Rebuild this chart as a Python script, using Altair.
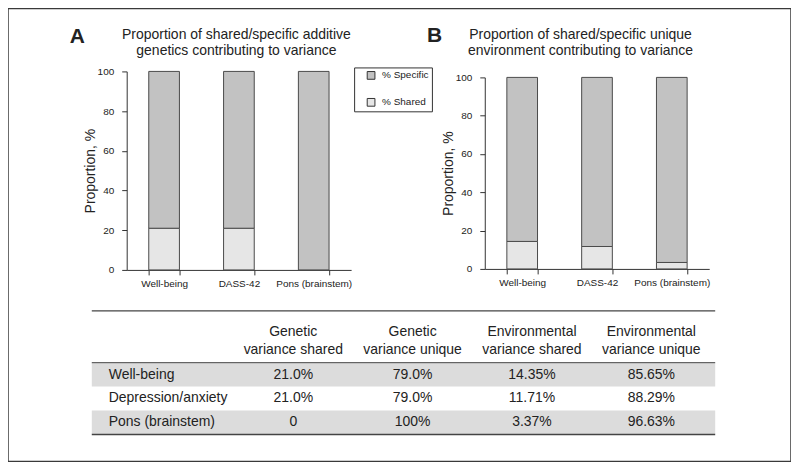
import altair as alt
import pandas as pd

# ---------------- data ----------------
categories = ["Well-being", "DASS-42", "Pons (brainstem)"]
genetic_shared = [21.0, 21.0, 0.0]
environment_shared = [14.35, 11.71, 3.37]
components = ["% Specific", "% Shared"]

table_rows = ["Well-being", "Depression/anxiety", "Pons (brainstem)"]
table_columns = ["Genetic\nvariance shared", "Genetic\nvariance unique",
                 "Environmental\nvariance shared", "Environmental\nvariance unique"]
col_genetic_shared = ["21.0%", "21.0%", "0"]
col_genetic_unique = ["79.0%", "79.0%", "100%"]
col_env_shared = ["14.35%", "11.71%", "3.37%"]
col_env_unique = ["85.65%", "88.29%", "96.63%"]
row_shaded = [True, False, True]

title_a = "Proportion of shared/specific additive\ngenetics contributing to variance"
title_b = "Proportion of shared/specific unique\nenvironment contributing to variance"
y_title = "Proportion, %"

FONT = "Liberation Sans"
TXT = "#222222"
LINE = "#444444"
W, H = 785, 454


def bars_df(shared):
    rows = []
    for c, s in zip(categories, shared):
        rows.append({"cat": c, "comp": "% Shared", "val": s, "ord": 0})
        rows.append({"cat": c, "comp": "% Specific", "val": round(100 - s, 2), "ord": 1})
    return pd.DataFrame(rows)


color = alt.Color(
    "comp:N",
    scale=alt.Scale(domain=components, range=["#c2c2c2", "#e6e6e6"]),
    legend=alt.Legend(
        title=None, orient="none", legendX=347, legendY=59, direction="vertical",
        symbolType="square", symbolSize=60, symbolStrokeColor="#333333",
        symbolStrokeWidth=1, labelFont=FONT, labelFontSize=10, labelColor=TXT,
        padding=3, rowPadding=15, symbolOffset=9, strokeColor="#333333",
        fillColor="white", labelOffset=6,
    ),
)


def bar_layer(shared, xrange, yrange, xoff, yoff):
    x = alt.X(
        "cat:N", sort=categories, title=None,
        scale=alt.Scale(domain=categories, range=xrange, paddingInner=0.59, paddingOuter=0.295),
        axis=alt.Axis(orient="bottom", offset=xoff, tickBand="extent", labelAngle=0,
                      labelFontSize=10, labelPadding=4, tickSize=5, grid=False),
    )
    y = alt.Y(
        "val:Q", stack="zero", title=y_title,
        scale=alt.Scale(domain=[0, 100], range=yrange, nice=False),
        axis=alt.Axis(orient="left", offset=yoff, values=[0, 20, 40, 60, 80, 100],
                      tickSize=5, labelPadding=8, labelFontSize=10, titleFontSize=14,
                      titleFontWeight="normal", titlePadding=0, grid=False),
    )
    return alt.Chart(bars_df(shared)).mark_bar(stroke="#4a4a4a", strokeWidth=1).encode(
        x=x, y=y, color=color, order=alt.Order("ord:Q")
    )


bars_a = bar_layer(genetic_shared, [119, 344], [262, 63], -(H - 262), -119)
bars_b = bar_layer(environment_shared, [478, 703], [261, 69], -(H - 261), -478)

one = pd.DataFrame({"k": [0]})


def label(text, x, y, size, weight="normal", align="center", lh=16):
    return alt.Chart(one).mark_text(
        text=text, font=FONT, fontSize=size, fontWeight=weight, align=align,
        baseline="alphabetic", color=TXT, lineBreak="\n", lineHeight=lh,
    ).encode(x=alt.value(x), y=alt.value(y))


lab_a = label("A", 62, 35, 21, "bold", "left")
lab_b = label("B", 420, 34, 21, "bold", "left")
tit_a = label(title_a, 229, 31, 14)
tit_b = label(title_b, 574, 31, 14)

# ---------------- table ----------------
cells = []
for i, r in enumerate(table_rows):
    for c, colvals in zip(table_columns, [col_genetic_shared, col_genetic_unique,
                                          col_env_shared, col_env_unique]):
        cells.append({"row": r, "col": c, "txt": colvals[i]})
cells_df = pd.DataFrame(cells)
rows_df = pd.DataFrame({"row": table_rows, "shaded": row_shaded})
cols_df = pd.DataFrame({"col": table_columns})

col_x = alt.X("col:N", sort=table_columns, axis=None,
              scale=alt.Scale(type="point", domain=table_columns, range=[286, 645], padding=0))
row_y_point = alt.Y("row:N", sort=table_rows, axis=None,
                    scale=alt.Scale(type="point", domain=table_rows, range=[367, 414], padding=0))

shade = alt.Chart(rows_df).transform_filter("datum.shaded").mark_rect(
    color="#dcdcdc", strokeWidth=0
).encode(
    y=alt.Y("row:N", sort=table_rows, axis=None,
            scale=alt.Scale(type="band", domain=table_rows, range=[355, 427],
                            paddingInner=0, paddingOuter=0)),
    x=alt.value(84), x2=alt.value(709),
)

cell_text = alt.Chart(cells_df).mark_text(
    font=FONT, fontSize=14, color=TXT, baseline="middle"
).encode(x=col_x, y=row_y_point, text="txt:N")

row_text = alt.Chart(rows_df).mark_text(
    font=FONT, fontSize=14, color=TXT, baseline="middle", align="left"
).encode(x=alt.value(101), y=row_y_point, text="row:N")

head_text = alt.Chart(cols_df).mark_text(
    font=FONT, fontSize=14, color=TXT, baseline="alphabetic", lineBreak="\n", lineHeight=18
).encode(x=col_x, y=alt.value(328), text="col:N")


def hline(y, w=1.3):
    return alt.Chart(one).mark_rule(color=LINE, strokeWidth=w).encode(
        x=alt.value(84), x2=alt.value(709), y=alt.value(y)
    )


chart = alt.layer(
    shade, bars_a, bars_b, lab_a, lab_b, tit_a, tit_b,
    cell_text, row_text, head_text, hline(303), hline(355, 1), hline(427),
).resolve_scale(
    x="independent", y="independent", color="shared"
).properties(
    width=W, height=H, padding=0
).configure_view(
    stroke="#3a3a3a", strokeWidth=1.5
).configure_axis(
    grid=False, domainColor="#333333", tickColor="#333333", labelColor=TXT,
    titleColor=TXT, labelFont=FONT, titleFont=FONT,
)

chart.save("out.html", embed_options={"renderer": "svg", "actions": False})
